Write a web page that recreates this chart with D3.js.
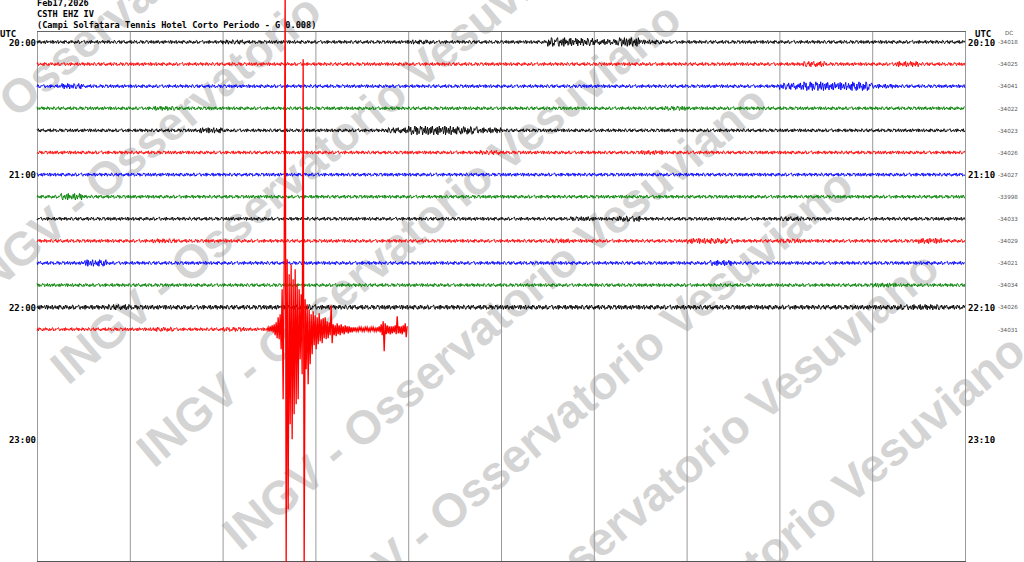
<!DOCTYPE html>
<html><head><meta charset="utf-8">
<script src="https://cdn.jsdelivr.net/npm/d3@7"></script>
<style>html,body{margin:0;padding:0;background:#fff;overflow:hidden}</style>
</head><body>
<svg id="c" width="1024" height="562"></svg>
<script>
// ---------------- data ----------------
const headerLines = ["Feb17,2026", "CSTH EHZ IV", "(Campi Solfatara Tennis Hotel Corto Periodo - G 0.008)"];
const rowColors = ["#000000", "#ff0000", "#0000ff", "#008000"];
const leftLabels = [{row: 0, text: "20:00"}, {row: 6, text: "21:00"}, {row: 12, text: "22:00"}, {row: 18, text: "23:00"}];
const rightLabels = [{row: 0, text: "20:10"}, {row: 6, text: "21:10"}, {row: 12, text: "22:10"}, {row: 18, text: "23:10"}];
const dcValues = [-34018, -34025, -34041, -34022, -34023, -34026, -34027, -33998, -34033, -34029, -34021, -34034, -34026, -34031];
const minuteTicks = [0, 1, 2, 3, 4, 5, 6, 7, 8, 9, 10];
// noise envelope per row, one digit per 15 s (digit = half-pixel amplitude)
const rowEnvelopes = [
  "3333333343333333433333875843333333333333",
  "3333333333333333333333333333333335333533",
  "3533333333333333333333333333333368784333",
  "3333343333333333333333333334333333333333",
  "3333333533333335887533333333333333333333",
  "3333333333333333333433333343333333333333",
  "3333333333333333333333333333333333333333",
  "3633333333333333333333333333333333333333",
  "3333333333333333333333343533333343333333",
  "3333343333333333333333433333553343333353",
  "3363333333333333333333333333353333333333",
  "3333333333333333333333333333333333334333",
  "4445444444454444444444444444444444444554",
  "3333343343333333333333333333333333333333"
];
const lastRowEnd = 2.48;      // minutes of plain noise in last row before the quake
const quakeStart = 2.48;      // minutes into the last row
const quakeStep = 0.01078;    // minutes per quake sample
const quakeOffsets = [
  1,-2,2,-3,2,-4,3,-5,6,-7,9,-12,10,-15,20,
  -40,70,-60,-345,240,-70,180,-55,95,-65,110,-50,85,-60,75,-45,70,-40,
  30,-35,45,-270,240,-30,40,-25,55,-20,35,-15,25,
  -18,16,-14,20,-12,15,-16,12,-10,14,-11,9,-12,10,-8,9,-7,6,
  -24,14,-5,6,-4,7,-6,5,-4,6,-5,4,-3,5,-4,3,-3,4,-3,3,-2,3,-2,2,
  -2,2,-1,2,-2,1,-2,2,-1,2,-2,1,-2,2,-1,2,-2,1,-2,2,-1,2,-2,2,-3,3,
  -5,6,-8,22,-6,5,-4,4,-3,5,-3,4,-3,3,-4,5,-13,4,-3,4,-3,5,-4,3,-6,8,-3
];
// hand-typed wiggle texture (digit 0..8, 4 = centre)
const traceTexture = "2716048352718406253174081652730845163728041658273061548273601857243106835274180625374" +
                     "1608527340618253705184263701586240738152064837251608437025186473051826740318526074183";
const watermarkText = "INGV - Osservatorio Vesuviano";

// ---------------- layout ----------------
const svg = d3.select("#c");
const W = 1024, H = 562;
const x = d3.scaleLinear().domain([0, 10]).range([37, 965]);
const rowY = d3.scaleLinear().domain([0, 1]).range([42, 64.1]);
const amp = d3.scaleLinear().domain([-1, 1]).range([-1, 1]);
const mono = "'DejaVu Sans Mono', 'Liberation Mono', monospace";

// watermark
const wm = svg.append("g");
d3.range(-3, 6).forEach(k => {
  wm.append("text")
    .attr("transform", `translate(${68 + k * 86},${386 + k * 83}) rotate(-40)`)
    .attr("font-family", "'Liberation Sans', Arial, sans-serif")
    .attr("font-weight", "bold")
    .attr("font-size", 47)
    .attr("fill", "#d4d4d4")
    .text(watermarkText);
});

// grid
svg.append("g").selectAll("line").data(minuteTicks).join("line")
  .attr("x1", d => x(d) + 0.5).attr("x2", d => x(d) + 0.5)
  .attr("y1", 31).attr("y2", H)
  .attr("stroke", "#999").attr("stroke-width", 1);
svg.append("line").attr("x1", x(0)).attr("x2", x(10) + 1).attr("y1", 31.5).attr("y2", 31.5)
  .attr("stroke", "#666").attr("stroke-width", 1);
svg.append("line").attr("x1", x(0)).attr("x2", x(10) + 1).attr("y1", 561.5).attr("y2", 561.5)
  .attr("stroke", "#555").attr("stroke-width", 1);

// header
svg.append("g").selectAll("text").data(headerLines).join("text")
  .attr("x", 37).attr("y", (d, i) => 5.5 + i * 11)
  .attr("font-family", mono).attr("font-weight", "bold").attr("font-size", 8.6)
  .attr("fill", "#000").text(d => d);

// time labels
const lab = svg.append("g").attr("font-family", mono).attr("font-weight", "bold").attr("font-size", 9).attr("fill", "#000");
lab.append("text").attr("x", 0).attr("y", 37).text("UTC");
lab.append("text").attr("x", 975).attr("y", 37).text("UTC");
lab.selectAll(".l").data(leftLabels).join("text").attr("class", "l")
  .attr("x", 36).attr("y", d => rowY(d.row) + 3.5).attr("text-anchor", "end").text(d => d.text);
lab.selectAll(".r").data(rightLabels).join("text").attr("class", "r")
  .attr("x", 968).attr("y", d => rowY(d.row) + 3.5).text(d => d.text);

// DC column
const dc = svg.append("g").attr("font-family", "'DejaVu Sans', sans-serif").attr("font-size", 5.6).attr("fill", "#555");
dc.append("text").attr("x", 1005).attr("y", 35).text("DC");
dc.selectAll(".dcv").data(dcValues).join("text").attr("class", "dcv")
  .attr("x", 998).attr("y", (d, i) => rowY(i) + 2.2).text(d => String(d));

// traces
const line = d3.line().x(d => x(d[0])).y(d => d[1]);
const texVal = i => (+traceTexture[i % traceTexture.length] - 4) / 4;
const step = 0.0075;
rowEnvelopes.forEach((env, r) => {
  const base = rowY(r);
  const isLast = r === rowEnvelopes.length - 1;
  const tEnd = isLast ? lastRowEnd : 10;
  const pts = [];
  let i = 0;
  for (let t = 0; t <= tEnd + 1e-9; t += step, i++) {
    const seg = Math.min(env.length - 1, Math.floor(t / 10 * env.length));
    const a = +env[seg] * 0.55;
    pts.push([t, base + amp(a * texVal(i + r * 29))]);
  }
  svg.append("path").attr("d", line(pts))
    .attr("fill", "none").attr("stroke", rowColors[r % 4]).attr("stroke-width", 0.9);
  if (isLast) {
    const q = [pts[pts.length - 1]].concat(quakeOffsets.map((o, k) => [quakeStart + k * quakeStep, base + amp(o)]));
    svg.append("path").attr("d", line(q))
      .attr("fill", "none").attr("stroke", rowColors[r % 4]).attr("stroke-width", 1.3);
  }
});
</script>
</body></html>
